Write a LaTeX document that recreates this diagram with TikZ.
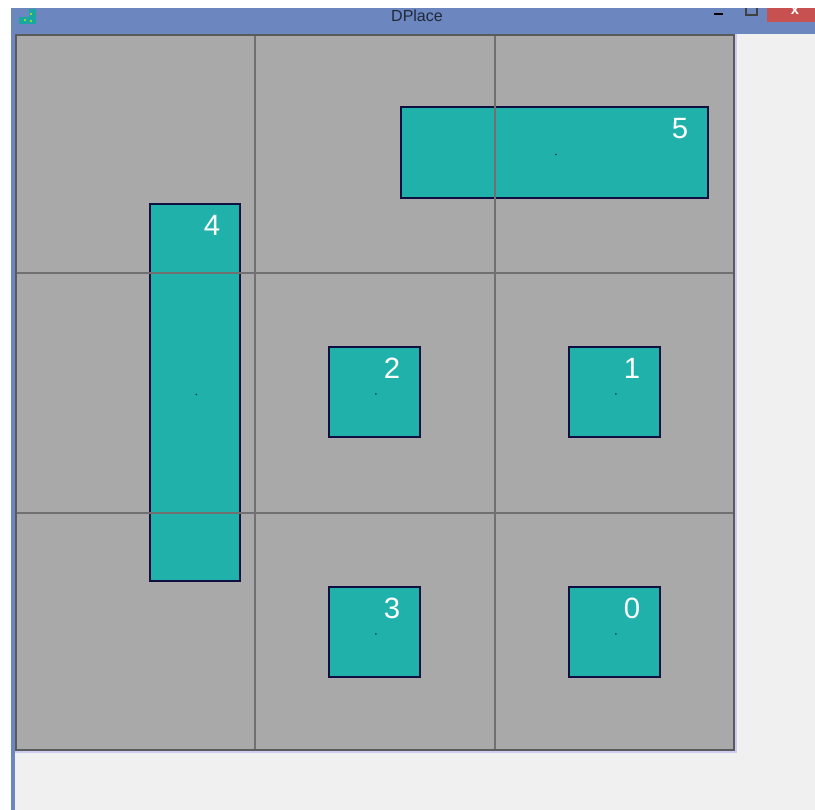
\documentclass[tikz,border=0pt]{standalone}
\usepackage{fontspec}
\setmainfont{Liberation Sans}
\usepackage{tikz}
\usetikzlibrary{positioning}
\definecolor{winblue}{RGB}{108,135,192}
\definecolor{panel}{RGB}{240,240,240}
\definecolor{board}{RGB}{169,169,169}
\definecolor{gridln}{RGB}{112,112,112}
\definecolor{seagreen}{RGB}{32,178,170}
\definecolor{edge}{RGB}{16,16,64}
\definecolor{closered}{RGB}{199,80,80}
\begin{document}
\begin{tikzpicture}[
  x=0.75pt, y=-0.75pt,
  blk/.style={draw=edge, line width=1.5pt, fill=seagreen, inner sep=0pt},
  sq/.style={blk, minimum width=68.25pt, minimum height=67.5pt},
  num/.style={text=white, font=\fontsize{22}{22}\selectfont, inner sep=0pt},
  ctr/.style={circle, fill=edge!70!seagreen, inner sep=0pt, minimum size=1.5pt},
  gline/.style={draw=gridln, line width=1.5pt}
]
\useasboundingbox (0,0) rectangle (815,810);
\fill[white] (0,0) rectangle (815,810);
\fill[winblue] (11,8) rectangle (815,34);
\fill[winblue] (11,34) rectangle (15,810);
\fill[panel] (15,34) rectangle (815,810);
\fill[closered] (767,8) rectangle (815,22);
\node[text=white, font=\bfseries\fontsize{11}{11}\selectfont, inner sep=0pt] (closex) at (795,11) {x};
\draw[black!75, line width=0.9pt] (746,8) -- (746,15) -- (757,15) -- (757,8);
\draw[black, line width=1.5pt] (714,13.5) -- (723,13.5);
\node[text=black!70!winblue, font=\fontsize{12}{12}\selectfont, inner sep=0pt] (title) at (417,16) {DPlace};
\fill[seagreen!80!teal] (19,17) rectangle (35,24);
\fill[seagreen!80!teal] (29,9) rectangle (36,24);
\fill[yellow!80!green] (25,20) circle (1.2) (31,14) circle (1.2) (31,21) circle (1.2);
\draw[blue!15!panel, line width=0.8pt] (15,752) -- (736,752) -- (736,34);
\fill[board] (15,34) rectangle (735,751);
\node[blk, minimum width=230.25pt, minimum height=68.25pt] (b5) at (554.5,152.5) {};
\node[blk, minimum width=67.5pt, minimum height=282.75pt] (b4) at (195,392.5) {};
\node[sq] (b2) at (374.5,392) {};
\node[sq] (b1) at (614.5,392) {};
\node[sq] (b3) at (374.5,632) {};
\node[sq] (b0) at (614.5,632) {};
\foreach \i in {0,...,5} {
  \node[ctr] (c\i) at ([xshift=1pt,yshift=-1.5pt]b\i.center) {};
  \node[num] (n\i) at ([xshift=-21.75pt,yshift=-17pt]b\i.north east) {\i};
}
\draw[gline] (255,34) -- (255,751) (495,34) -- (495,751)
  (15,273) -- (735,273) (15,513) -- (735,513);
\draw[gridln!80!black, line width=1.8pt] (16,35) rectangle (734,750);
\end{tikzpicture}
\end{document}
